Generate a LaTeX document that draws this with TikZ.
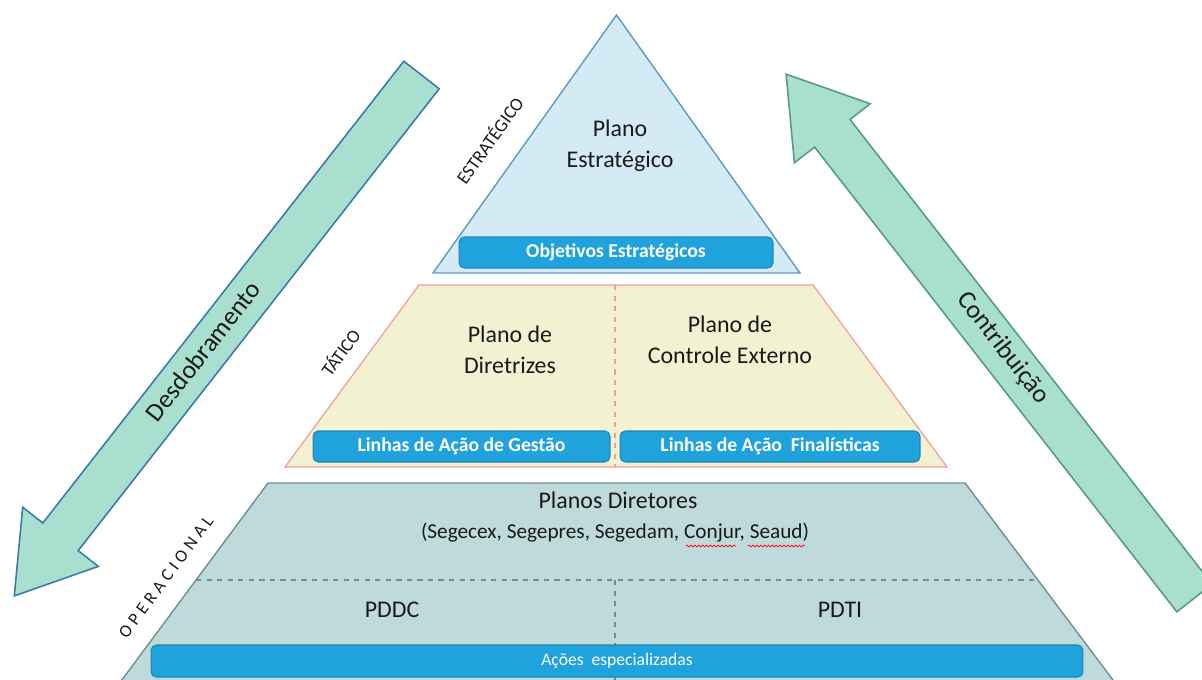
\documentclass[tikz,border=0pt]{standalone}
\usepackage{fontspec}
\setmainfont{Carlito}
\usetikzlibrary{decorations.pathmorphing}

\definecolor{ink}{HTML}{1A1A1A}
\definecolor{stratfill}{HTML}{D4EAF5}
\definecolor{stratedge}{HTML}{5B9BC0}
\definecolor{taticfill}{HTML}{F2F2D2}
\definecolor{taticedge}{HTML}{F19C9C}
\definecolor{operfill}{HTML}{BFDADA}
\definecolor{operedge}{HTML}{6E8F8F}
\definecolor{boxblue}{HTML}{20A2DC}
\definecolor{boxedge}{HTML}{1B85B8}
\definecolor{arrowfill}{HTML}{A9DFCE}
\definecolor{downedge}{HTML}{3A7CA5}
\definecolor{upedge}{HTML}{5A9A80}

\begin{document}
\begin{tikzpicture}[x=0.02cm,y=-0.02cm]
	\tikzset{
	box/.style={rectangle, rounded corners=3pt, draw=boxedge, line width=0.6pt, fill=boxblue, text=white, minimum height=0.62cm, inner sep=0pt, font=\fontsize{11.2}{13}\selectfont\bfseries},
	title/.style={align=center, text=ink, font=\fontsize{13.6}{17.5}\selectfont},
	level/.style={text=ink, font=\fontsize{10.5}{12}\selectfont},
	bigarrow/.style={fill=arrowfill, line width=0.9pt, line join=miter}}

	\useasboundingbox (0,0) rectangle (1202,679);
	\clip (0,0) rectangle (1202,679);

	%arrows
	\draw[bigarrow, draw=downedge] (403.8,61.2) -- (439.2,88.8) -- (78.2,550.6) -- (98.3,566.4) -- (14.3,595.9) -- (22.7,507.2) -- (42.8,523.0) -- cycle;
	\draw[bigarrow, draw=upedge] (1176.8,611.8) -- (814.6,147.1) -- (794.4,162.8) -- (786.1,74.1) -- (870.2,103.8) -- (850.0,119.5) -- (1212.2,584.2) -- cycle;
	\node[rotate=52, text=ink, font=\fontsize{14.7}{16}\selectfont] (desdob) at (203,351) {Desdobramento};
	\node[rotate=-52, text=ink, font=\fontsize{14.7}{16}\selectfont] (contrib) at (1003,348) {Contribuição};

	%estrategico
	\draw[fill=stratfill, draw=stratedge, line width=0.8pt] (616.5,15) -- (800,273) -- (433,273) -- cycle;
	\node[title] (pe) at (620,146) {Plano\\Estratégico};
	\node[box, minimum width=6.28cm] (objetivos) at (616,252.5) {Objetivos Estratégicos};
	\node[level, rotate=54.6] (lestrat) at (489,140) {ESTRATÉGICO};

	%tatico
	\draw[fill=taticfill, draw=taticedge, line width=0.7pt] (419,285) -- (813,285) -- (947,467) -- (285,467) -- cycle;
	\draw[taticedge, dashed, line width=0.6pt] (615,285) -- (615,467);
	\node[title] (pd) at (510,350) {Plano de\\Diretrizes};
	\node[title] (pce) at (730,340) {Plano de\\Controle Externo};
	\node[box, minimum width=5.94cm] (gestao) at (461.5,446.5) {Linhas de Ação de Gestão};
	\node[box, minimum width=6.0cm] (finalist) at (770,446.5) {Linhas de Ação\ \ Finalísticas};
	\node[level, rotate=53.6] (ltatic) at (340,352) {TÁTICO};

	%operacional
	\draw[fill=operfill, draw=operedge, line width=0.8pt] (268,483) -- (965,483) -- (1128,700) -- (107,700) -- cycle;
	\draw[operedge, dashed, line width=0.6pt] (196,580) -- (1038,580);
	\draw[operedge, dashed, line width=0.6pt] (615,580) -- (615,690);
	\node[title] (pdir) at (618,500) {Planos Diretores};
	\node[text=ink, font=\fontsize{12.1}{14}\selectfont] (secret) at (615,533) {(Segecex, Segepres, Segedam, Conjur, Seaud)};
	\draw[red, decorate, decoration={snake, amplitude=0.5pt, segment length=2.2pt}] (686,546) -- (736,546);
	\draw[red, decorate, decoration={snake, amplitude=0.5pt, segment length=2.2pt}] (748,546) -- (805,546);
	\node[title] (pddc) at (392,610) {PDDC};
	\node[title] (pdti) at (840,610) {PDTI};
	\node[box, minimum width=18.64cm, minimum height=0.64cm, font=\fontsize{10}{12}\selectfont] (acoes) at (617,661) {Ações\ \ especializadas};
	\node[level, rotate=53.5, font=\fontsize{10}{12}\selectfont\addfontfeatures{LetterSpace=25}] (loper) at (166,577) {OPERACIONAL};

\end{tikzpicture}
\end{document}
